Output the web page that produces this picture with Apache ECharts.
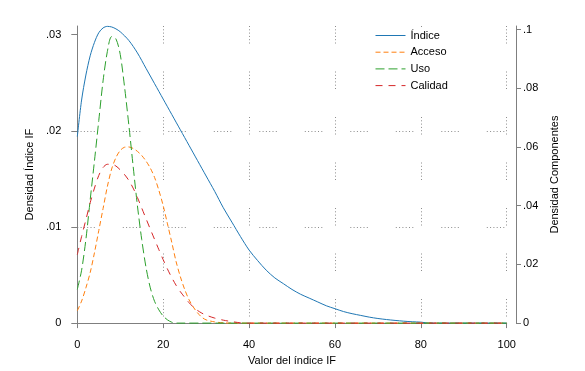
<!DOCTYPE html>
<html>
<head>
<meta charset="utf-8">
<script src="https://cdn.jsdelivr.net/npm/echarts@6/dist/echarts.min.js"></script>
<style>
  html, body { margin: 0; padding: 0; background: #fff; }
  #chart { width: 585px; height: 371px; }
</style>
</head>
<body>
<div id="chart"></div>
<script>
// Densidad del índice (eje izquierdo)
const xIndice = [0, 1, 2, 3, 4, 5, 6, 7, 8, 9, 10, 12, 14, 16, 18, 20, 22, 24, 26, 28, 30, 32, 34, 36, 38, 40, 42, 44, 46, 48, 50, 52, 54, 56, 58, 60, 62, 64, 66, 68, 70, 72, 74, 76, 78, 80, 82, 100];
const indice = [0.0194, 0.0232, 0.0258, 0.0278, 0.0292, 0.0302, 0.0307, 0.03086, 0.0308, 0.0306, 0.0303, 0.0294, 0.0281, 0.0265, 0.0249, 0.0233, 0.0217, 0.0201, 0.0185, 0.0169, 0.0153, 0.0137, 0.0120, 0.0105, 0.0090, 0.0076, 0.0065, 0.0055, 0.0047, 0.0041, 0.0035, 0.0030, 0.0026, 0.0022, 0.0018, 0.0015, 0.0012, 0.00098, 0.0008, 0.00062, 0.00048, 0.00037, 0.00028, 0.0002, 0.00014, 0.0001, 0, 0];

// Densidad de componentes (eje derecho)
const xAcceso = [0, 1, 2, 3, 4, 5, 6, 7, 8, 9, 10, 11, 12, 13, 14, 15, 16, 17, 18, 19, 20, 21, 22, 23, 24, 25, 26, 27, 28, 29, 30, 32, 34, 36, 100];
const acceso = [0.0042, 0.0075, 0.0120, 0.0172, 0.0240, 0.0315, 0.0390, 0.0465, 0.0525, 0.0564, 0.0588, 0.0599, 0.0600, 0.0595, 0.0585, 0.0571, 0.0552, 0.0528, 0.0496, 0.0452, 0.0400, 0.0338, 0.0275, 0.0210, 0.0158, 0.0115, 0.0080, 0.0055, 0.0035, 0.0020, 0.0011, 0.0004, 0.0001, 0, 0];

const xUso = [0, 1, 2, 3, 4, 5, 6, 7, 8, 9, 10, 11, 12, 13, 14, 15, 16, 17, 18, 19, 20, 21, 22, 23, 100];
const uso = [0.0115, 0.0180, 0.0285, 0.0420, 0.0553, 0.0690, 0.0825, 0.0925, 0.0976, 0.0968, 0.0915, 0.0805, 0.0675, 0.0535, 0.0400, 0.0285, 0.0190, 0.0120, 0.0074, 0.0045, 0.0024, 0.0011, 0.0003, 0, 0];

const xCalidad = [0, 1, 2, 3, 4, 5, 6, 7, 8, 9, 10, 11, 12, 13, 14, 15, 16, 17, 18, 19, 20, 21, 22, 23, 24, 25, 26, 27, 28, 29, 30, 32, 34, 36, 38, 39, 100];
const calidad = [0.0233, 0.0295, 0.0352, 0.0410, 0.0460, 0.0503, 0.0530, 0.0541, 0.0541, 0.0535, 0.0522, 0.0506, 0.0486, 0.0460, 0.0428, 0.0392, 0.0356, 0.0320, 0.0285, 0.0250, 0.0216, 0.0184, 0.0155, 0.0129, 0.0107, 0.0088, 0.0070, 0.0055, 0.0043, 0.0034, 0.0027, 0.0017, 0.0010, 0.0005, 0.0001, 0, 0];

const leftTicks = [0, 0.01, 0.02, 0.03];
const rightTicks = [0, 0.02, 0.04, 0.06, 0.08, 0.1];

const FONT = '"Liberation Sans", Arial, sans-serif';
const AXIS_GRAY = "#7f7f7f";
const GRID_DOTS = [1, 2.3, 1, 2.3, 1, 2.3, 1, 2.3, 1, 2.3, 1, 28];

function pairs(xs, ys) {
  return xs.map((x, i) => [x, ys[i]]);
}

// Stata-style labels: ".03" instead of "0.03"
function stataLabel(v) {
  if (v === 0) return "0";
  return String(+v.toFixed(4)).replace(/^0\./, ".");
}

function lineSeries(name, xs, ys, color, dash, yAxisIndex) {
  return {
    name,
    type: "line",
    yAxisIndex,
    data: pairs(xs, ys),
    symbol: "none",
    smooth: 0.3,
    clip: false,
    lineStyle: { color, width: 1, type: dash },
    itemStyle: { color },
  };
}

const chart = echarts.init(document.getElementById("chart"), null, { renderer: "canvas" });

chart.setOption({
  animation: false,
  backgroundColor: "#fff",
  textStyle: { fontFamily: FONT },
  grid: { left: 77.3, right: 78.3, top: 26, bottom: 47.5, containLabel: false },
  legend: {
    orient: "vertical",
    left: 368,
    top: 27,
    padding: [3, 24, 8, 7],
    backgroundColor: "#fff",
    itemWidth: 30,
    itemHeight: 10,
    itemGap: 5.7,
    itemStyle: { opacity: 0 },
    lineStyle: { width: 1 },
    textStyle: { fontSize: 11, color: "#000", fontFamily: FONT },
    data: ["Índice", "Acceso", "Uso", "Calidad"],
  },
  xAxis: {
    type: "value",
    min: 0,
    max: 100,
    interval: 20,
    offset: 6,
    name: "Valor del índice IF",
    nameLocation: "middle",
    nameGap: 21,
    nameTextStyle: { fontSize: 11, color: "#000", fontFamily: FONT },
    axisLine: { show: true, lineStyle: { color: AXIS_GRAY, width: 1 } },
    axisTick: { show: true, length: 5, lineStyle: { color: AXIS_GRAY } },
    axisLabel: { margin: 10, fontSize: 11, color: "#000", fontFamily: FONT },
    splitLine: { show: true, lineStyle: { color: "#8c8c8c", width: 1, type: GRID_DOTS } },
  },
  yAxis: [
    {
      type: "value",
      position: "left",
      min: 0,
      max: 0.0309,
      interval: 0.01,
      offset: 8,
      name: "Densidad Índice IF",
      nameLocation: "middle",
      nameGap: 33,
      nameTextStyle: { fontSize: 11, color: "#000", fontFamily: FONT },
      axisLine: { show: true, lineStyle: { color: AXIS_GRAY, width: 1 } },
      axisTick: { show: true, length: 6, lineStyle: { color: AXIS_GRAY }, customValues: leftTicks },
      axisLabel: { margin: 8, fontSize: 11, color: "#000", fontFamily: FONT, customValues: leftTicks, formatter: stataLabel },
      splitLine: { show: true, showMaxLine: false, lineStyle: { color: "#8c8c8c", width: 1, type: GRID_DOTS } },
    },
    {
      type: "value",
      position: "right",
      min: 0,
      max: 0.1012,
      interval: 0.02,
      offset: 9.3,
      name: "Densidad Componentes",
      nameLocation: "middle",
      nameGap: 30,
      nameTextStyle: { fontSize: 11, color: "#000", fontFamily: FONT },
      axisLine: { show: true, lineStyle: { color: AXIS_GRAY, width: 1 } },
      axisTick: { show: true, length: 5, lineStyle: { color: AXIS_GRAY }, customValues: rightTicks },
      axisLabel: { margin: 7, fontSize: 11, color: "#000", fontFamily: FONT, customValues: rightTicks, formatter: stataLabel },
      splitLine: { show: false },
    },
  ],
  series: [
    lineSeries("Índice", xIndice, indice, "#1f77b4", "solid", 0),
    lineSeries("Acceso", xAcceso, acceso, "#ff7f0e", [5, 3], 1),
    lineSeries("Uso", xUso, uso, "#2ca02c", [9, 4], 1),
    lineSeries("Calidad", xCalidad, calidad, "#d62728", [7, 6], 1),
  ],
});
</script>
</body>
</html>
